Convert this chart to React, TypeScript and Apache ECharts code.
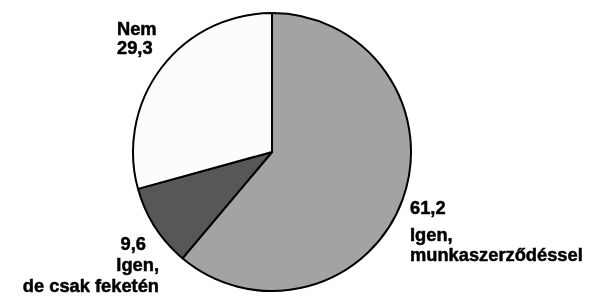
import React, { useEffect, useRef } from "react";
import * as echarts from "echarts";

const categories = ["Igen,\nmunkaszerződéssel", "Igen,\nde csak feketén", "Nem"];
const values = [61.2, 9.6, 29.3];
const colors = ["#a3a3a3", "#575757", "#fcfcfc"];

export default function App() {
  const ref = useRef<HTMLDivElement>(null);
  useEffect(() => {
    document.body.style.margin = "0";
    const chart = echarts.init(ref.current!, null, { renderer: "svg" });
    const fmt = (v: number) => v.toFixed(1).replace(".", ",");
    const font = {
      fontFamily: "Liberation Sans",
      fontWeight: "bold" as const,
      fontSize: 18.3,
      color: "#000",
      textBorderColor: "#000",
      textBorderWidth: 0.5,
    };
    const layouts: any[] = [
      { x: 410, y: 191, align: "left", verticalAlign: "top" },
      { x: 159, y: 232, align: "right", verticalAlign: "top" },
      { x: 117, y: 19, align: "left", verticalAlign: "top" },
    ];
    chart.setOption({
      animation: false,
      series: [
        {
          type: "pie",
          center: [272, 152],
          radius: 139,
          startAngle: 90,
          clockwise: true,
          silent: true,
          data: categories.map((name, i) => ({
            name,
            value: values[i],
            itemStyle: { color: colors[i], borderColor: "#000", borderWidth: 2 },
          })),
          labelLine: { show: false },
          label: {
            show: true,
            overflow: "none",
            ...font,
            formatter: (p: any) => {
              const v = fmt(p.value);
              if (p.dataIndex === 0) return `{v0|${v}}\n{n|${p.name}}`;
              if (p.dataIndex === 1) return `{v1|${v}}\n{n|${p.name}}`;
              return `{m|${p.name}}\n{m|${v}}`;
            },
            rich: {
              v0: { ...font, lineHeight: 33 },
              v1: { ...font, lineHeight: 22.5, padding: [0, 13, 0, 0] },
              n: { ...font, lineHeight: 20.5 },
              m: { ...font, lineHeight: 19 },
            },
          },
          labelLayout: (params: any) => layouts[params.dataIndex],
        },
      ],
    });
    return () => chart.dispose();
  }, []);
  return <div ref={ref} style={{ position: "fixed", left: 0, top: 0, width: 595, height: 297 }} />;
}
